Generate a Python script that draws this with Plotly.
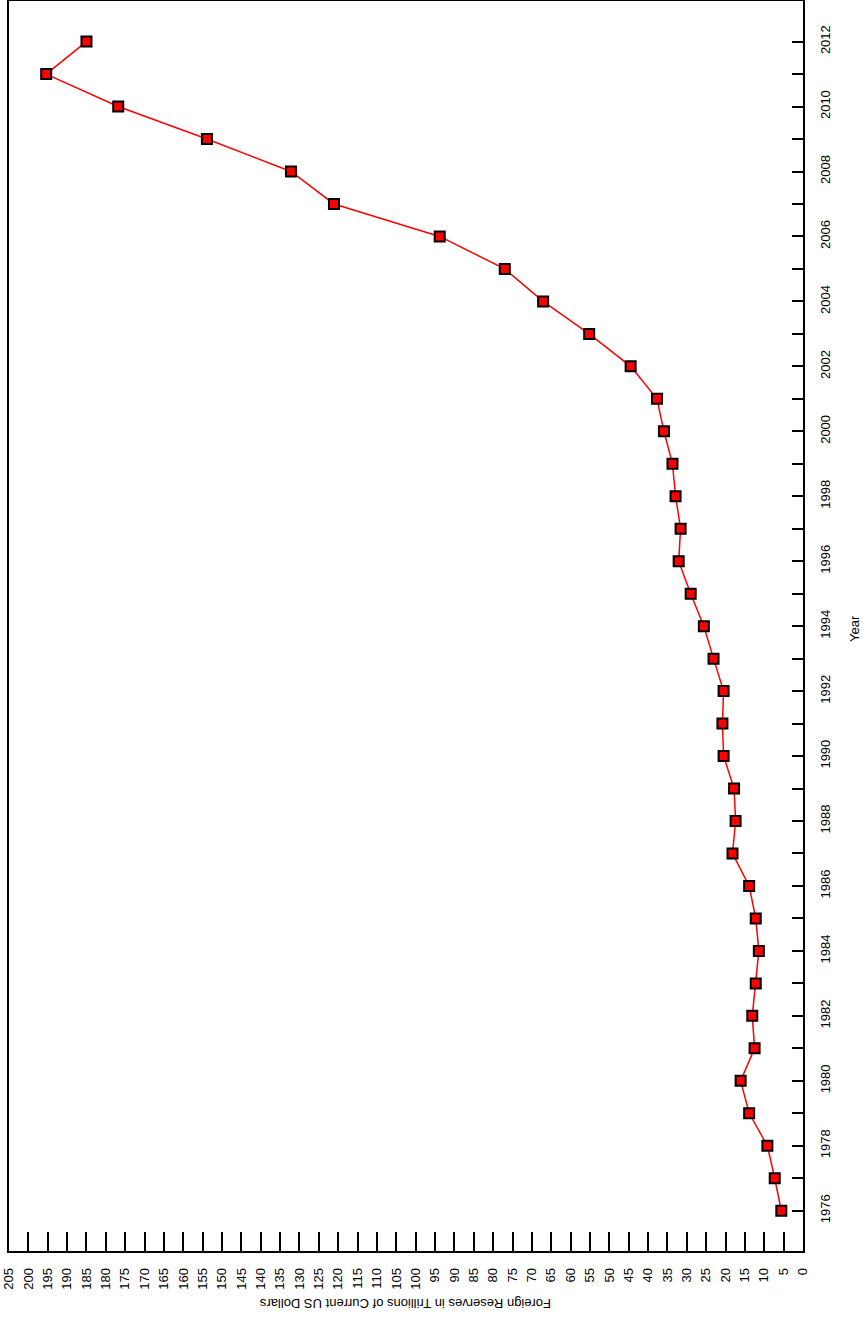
import plotly.graph_objects as go

years = list(range(1976, 2013))
reserves = [5.6, 7.3, 9.2, 13.9, 16.1, 12.5, 13.1, 12.2, 11.4, 12.2,
            13.9, 18.2, 17.4, 17.8, 20.5, 20.8, 20.5, 23.1, 25.6, 29.0,
            32.1, 31.6, 32.9, 33.7, 35.9, 37.7, 44.5, 55.2, 67.1, 77.0,
            93.8, 121.1, 132.2, 153.9, 176.8, 195.4, 185.0]

value_ticks = list(range(0, 206, 5))
year_ticks = years
year_labels = [str(y) if y % 2 == 0 else "" for y in years]

FONT = "Liberation Sans, Arial, sans-serif"

L, R, T, B = 9, 60, 1, 75
W, H = 863, 1326

fig = go.Figure()
fig.add_trace(go.Scatter(
    x=reserves, y=years, mode="lines+markers",
    line=dict(color="red", width=1.5),
    marker=dict(symbol="square", size=10, color="red",
                line=dict(color="black", width=2)),
    showlegend=False,
))

plot_w = W - L - R
plot_h = H - T - B

fig.update_layout(
    width=W, height=H,
    margin=dict(l=L, r=R, t=T, b=B, autoexpand=False),
    paper_bgcolor="white", plot_bgcolor="white",
    font=dict(family=FONT, size=13, color="black"),
    xaxis=dict(
        range=[205, 0], tickmode="array", tickvals=value_ticks,
        ticktext=[str(v) for v in value_ticks],
        ticks="inside", ticklen=19, tickwidth=1.5, tickcolor="black",
        tickangle=-90, showgrid=False, zeroline=False,
        showline=True, mirror=True, linecolor="black", linewidth=1.5,
        ticklabelstandoff=10, automargin=False,
    ),
    yaxis=dict(
        range=[1974.76, 2013.25], side="right", tickmode="array",
        tickvals=year_ticks, ticktext=year_labels,
        ticks="inside", ticklen=11, tickwidth=1.5, tickcolor="black",
        tickangle=-90, showgrid=False, zeroline=False,
        showline=True, mirror=True, linecolor="black", linewidth=1.5,
        ticklabelstandoff=10, automargin=False,
    ),
    annotations=[
        dict(text="Foreign Reserves in Trillions of Current US Dollars",
             x=(405 - L) / plot_w, y=-(1304 - (H - B)) / plot_h,
             xref="paper", yref="paper", showarrow=False,
             xanchor="center", yanchor="middle",
             textangle=180, font=dict(size=13)),
        dict(text="Year", x=(854 - L) / plot_w, y=((H - B) - 628) / plot_h,
             xref="paper", yref="paper", xanchor="center", yanchor="middle",
             showarrow=False, textangle=-90, font=dict(size=13)),
    ],
)

fig.write_html("out.html", config={"displayModeBar": False},
               post_script="document.body.style.margin='0';")
